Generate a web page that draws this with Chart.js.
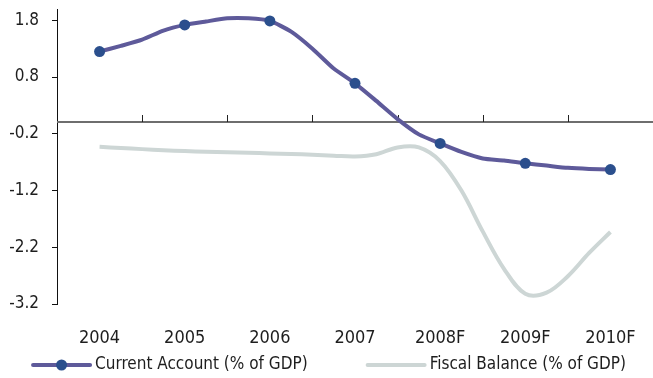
<!DOCTYPE html>
<html>
<head>
<meta charset="utf-8">
<script src="https://cdn.jsdelivr.net/npm/chart.js@4.4.0/dist/chart.umd.min.js"></script>
<style>
  html, body { margin: 0; padding: 0; background: #fff; }
  #wrap { width: 653px; height: 378px; }
</style>
</head>
<body>
<div id="wrap"><canvas id="balanceChart" width="653" height="378"></canvas></div>
<script>
// ================== DATA ==================
const yearLabels = ['2004', '2005', '2006', '2007', '2008F', '2009F', '2010F'];
const firstYear = 2004;

// quarterly points, markers only on the full years
const quarters = [
    2004.00, 2004.25, 2004.50, 2004.75,
    2005.00, 2005.25, 2005.50, 2005.75,
    2006.00, 2006.25, 2006.50, 2006.75,
    2007.00, 2007.25, 2007.50, 2007.75,
    2008.00, 2008.25, 2008.50, 2008.75,
    2009.00, 2009.25, 2009.50, 2009.75,
    2010.00
];

const currentAccount = [
    1.25, 1.35, 1.46, 1.62,
    1.72, 1.78, 1.835, 1.835,
    1.79, 1.60, 1.30, 0.95,
    0.69, 0.38, 0.06, -0.21,
    -0.37, -0.52, -0.635, -0.67,
    -0.72, -0.76, -0.80, -0.82,
    -0.83
];

const fiscalBalance = [
    -0.43, -0.45, -0.47, -0.49,
    -0.505, -0.515, -0.525, -0.535,
    -0.545, -0.555, -0.57, -0.585,
    -0.60, -0.56, -0.44, -0.44,
    -0.68, -1.20, -1.92, -2.58,
    -3.02, -3.00, -2.71, -2.30,
    -1.93
];

const yTicks = [-3.2, -2.2, -1.2, -0.2, 0.8, 1.8];
const Y_MIN = -3.2;
const Y_MAX = 2.0;

// ================== STYLE ==================
const FONT = "'DejaVu Sans Condensed', 'Liberation Sans', sans-serif";
const TEXT_COLOR = '#1e1e1e';
const CA_LINE = '#5e5a9a';
const CA_MARKER = '#2b4f8d';
const FB_LINE = '#cdd6d5';

const toPoints = (values) => quarters.map((q, i) => ({ x: q, y: values[i] }));

// zero line with small upward ticks between the years
const zeroLinePlugin = {
    id: 'zeroLine',
    beforeDatasetsDraw(chart) {
        const { ctx, chartArea, scales } = chart;
        const y0 = Math.round(scales.y.getPixelForValue(0));
        ctx.save();
        ctx.strokeStyle = '#6e6e6e';
        ctx.lineWidth = 2;
        ctx.beginPath();
        ctx.moveTo(chartArea.left, y0);
        ctx.lineTo(chartArea.right, y0);
        ctx.stroke();

        ctx.strokeStyle = '#222';
        ctx.lineWidth = 1;
        ctx.beginPath();
        for (let i = 1; i < yearLabels.length; i++) {
            const px = Math.round(scales.x.getPixelForValue(firstYear + i - 0.5)) + 0.5;
            ctx.moveTo(px, y0);
            ctx.lineTo(px, y0 - 7);
        }
        ctx.stroke();
        ctx.restore();
    }
};

// legend drawn as line samples (with marker) under the axis labels
const lineLegendPlugin = {
    id: 'lineLegend',
    afterDraw(chart) {
        const { ctx } = chart;
        const sampleW = 57, gapText = 5, gapItem = 60;
        const cy = chart.height - 13;
        ctx.save();
        ctx.font = `17px ${FONT}`;
        ctx.textBaseline = 'middle';
        ctx.textAlign = 'left';
        const items = chart.data.datasets.map(ds => ({ ds, w: ctx.measureText(ds.label).width }));
        let total = 0;
        items.forEach((it, i) => { total += sampleW + gapText + it.w + (i ? gapItem : 0); });
        let x = chart.width / 2 - total / 2 + 3;
        items.forEach((it, i) => {
            if (i) x += gapItem;
            ctx.strokeStyle = it.ds.borderColor;
            ctx.lineWidth = it.ds.borderWidth;
            ctx.lineCap = 'round';
            ctx.beginPath();
            ctx.moveTo(x, cy);
            ctx.lineTo(x + sampleW, cy);
            ctx.stroke();
            if (it.ds.showMarker) {
                ctx.fillStyle = it.ds.pointBackgroundColor;
                ctx.beginPath();
                ctx.arc(x + sampleW / 2, cy, 5.5, 0, Math.PI * 2);
                ctx.fill();
            }
            x += sampleW + gapText;
            ctx.fillStyle = TEXT_COLOR;
            ctx.fillText(it.ds.label, x, cy);
            x += it.w;
        });
        ctx.restore();
    }
};

const chart = new Chart(document.getElementById('balanceChart'), {
    type: 'line',
    data: {
        datasets: [
            {
                label: 'Current Account (% of GDP)',
                data: toPoints(currentAccount),
                borderColor: CA_LINE,
                borderWidth: 4,
                tension: 0.2,
                pointRadius: (c) => Number.isInteger(c.raw.x) ? 5.5 : 0,
                pointHoverRadius: 0,
                pointBackgroundColor: CA_MARKER,
                pointBorderColor: CA_MARKER,
                pointBorderWidth: 0,
                showMarker: true,
                order: 1
            },
            {
                label: 'Fiscal Balance (% of GDP)',
                data: toPoints(fiscalBalance),
                borderColor: FB_LINE,
                borderWidth: 4,
                tension: 0.35,
                pointRadius: 0,
                pointHoverRadius: 0,
                showMarker: false,
                order: 2
            }
        ]
    },
    options: {
        responsive: false,
        animation: false,
        layout: { autoPadding: false, padding: { top: 9, bottom: 24, left: 0, right: 0 } },
        plugins: {
            legend: { display: false },
            tooltip: { enabled: false }
        },
        scales: {
            x: {
                type: 'linear',
                min: firstYear - 0.5,
                max: firstYear + yearLabels.length - 0.5,
                afterBuildTicks: (s) => { s.ticks = yearLabels.map((_, i) => ({ value: firstYear + i })); },
                afterFit: (s) => { s.height = 50; s.paddingLeft = 0; s.paddingRight = 0; },
                ticks: {
                    callback: (v) => yearLabels[Math.round(v) - firstYear],
                    font: { family: FONT, size: 18 },
                    color: TEXT_COLOR,
                    padding: 24,
                    maxRotation: 0,
                    autoSkip: false
                },
                grid: { display: false, drawTicks: false },
                border: { display: false }
            },
            y: {
                min: Y_MIN,
                max: Y_MAX,
                afterBuildTicks: (s) => { s.ticks = yTicks.map(v => ({ value: v })); },
                afterFit: (s) => { s.width = 57; s.paddingTop = 0; s.paddingBottom = 0; },
                ticks: {
                    callback: (v) => v.toFixed(1),
                    font: { family: FONT, size: 17 },
                    color: TEXT_COLOR,
                    padding: 13
                },
                grid: { drawOnChartArea: false, drawTicks: true, tickLength: 5, color: '#111' },
                border: { display: true, color: '#111', width: 1 }
            }
        }
    },
    plugins: [zeroLinePlugin, lineLegendPlugin]
});
</script>
</body>
</html>
